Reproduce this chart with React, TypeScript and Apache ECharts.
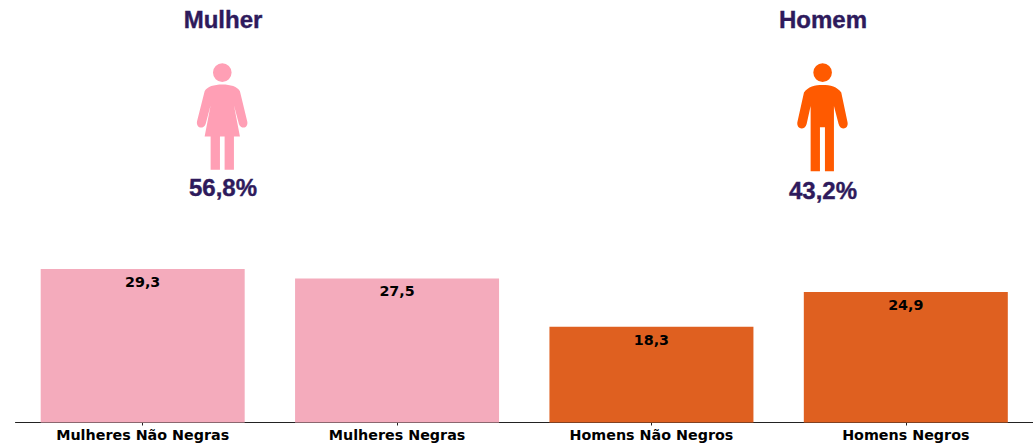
import React, { useEffect, useRef } from "react";
import * as echarts from "echarts";

const categories = ["Mulheres Não Negras", "Mulheres Negras", "Homens Não Negros", "Homens Negros"];
const values = [29.3, 27.5, 18.3, 24.9];
const barColors = ["#f4abbc", "#f4abbc", "#df6020", "#df6020"];
const groupTitles = ["Mulher", "Homem"];
const groupShares = ["56,8%", "43,2%"];

const circle = (cx: number, cy: number, r: number) =>
  `M${cx - r} ${cy}A${r} ${r} 0 1 1 ${cx + r} ${cy}A${r} ${r} 0 1 1 ${cx - r} ${cy}Z`;

const womanPath =
  circle(157, 218, 28) +
  "M157 254C132 254 112 260 104 274L81 365C78 385 100 390 107 372L122 316L104 410L122 410L122 510L150 510L150 410L164 410L164 510L192 510L192 410L210 410L192 316L207 372C214 390 236 385 232 365L210 274C202 260 182 254 157 254Z";
const manPath =
  circle(158, 218, 28) +
  "M158 255C135 255 114 260 102 278L82 368C80 390 105 392 110 372L122 318L122 514L150 514L150 382L165 382L165 514L192 514L192 318L206 372C211 392 236 390 233 368L214 278C202 260 181 255 158 255Z";

echarts.graphic.registerShape("woman", echarts.graphic.extendPath(womanPath, {}));
echarts.graphic.registerShape("man", echarts.graphic.extendPath(manPath, {}));

const titleFont = {
  fill: "#2e1a5c",
  stroke: "#2e1a5c",
  lineWidth: 0.4,
  font: 'bold 24px "Liberation Sans", Arial, sans-serif',
  textAlign: "center",
  textVerticalAlign: "middle",
};

export default function App() {
  const ref = useRef<HTMLDivElement>(null);
  useEffect(() => {
    const chart = echarts.init(ref.current!, null, { renderer: "svg" });
    chart.setOption({
      animation: false,
      backgroundColor: "#ffffff",
      grid: { left: 15.5, right: 0, top: 3.5, bottom: 21.5 },
      xAxis: {
        type: "category",
        data: categories,
        axisLine: { lineStyle: { color: "#222222", width: 1 } },
        axisTick: { show: true, alignWithLabel: true, length: 3, lineStyle: { color: "#222222" } },
        axisLabel: { color: "#000000", fontFamily: "DejaVu Sans", fontWeight: "bold", fontSize: 14.3, margin: 5.5, interval: 0 },
      },
      yAxis: { type: "value", min: 0, max: 80, show: false, splitLine: { show: false } },
      series: [
        {
          type: "bar",
          barWidth: 204,
          data: values.map((v, i) => ({ value: v, itemStyle: { color: barColors[i] } })),
          label: {
            show: true,
            position: "insideTop",
            distance: 6,
            color: "#000000",
            fontFamily: "DejaVu Sans",
            fontWeight: "bold",
            fontSize: 14.3,
            formatter: (p: any) => String(p.value).replace(".", ","),
          },
        },
      ],
      graphic: [
        { type: "text", x: 223, y: 19.5, style: { ...titleFont, text: groupTitles[0] } },
        { type: "text", x: 823, y: 19, style: { ...titleFont, text: groupTitles[1] } },
        { type: "woman", x: 170, y: 0, scaleX: 1 / 3, scaleY: 1 / 3, style: { fill: "#ff9fb5" } },
        { type: "man", x: 770, y: 0, scaleX: 1 / 3, scaleY: 1 / 3, style: { fill: "#ff5a00" } },
        { type: "text", x: 223, y: 187.5, style: { ...titleFont, text: groupShares[0] } },
        { type: "text", x: 823, y: 190, style: { ...titleFont, text: groupShares[1] } },
      ],
    });
    return () => chart.dispose();
  }, []);
  return <div ref={ref} style={{ position: "fixed", left: 0, top: 0, width: 1033, height: 444 }} />;
}
